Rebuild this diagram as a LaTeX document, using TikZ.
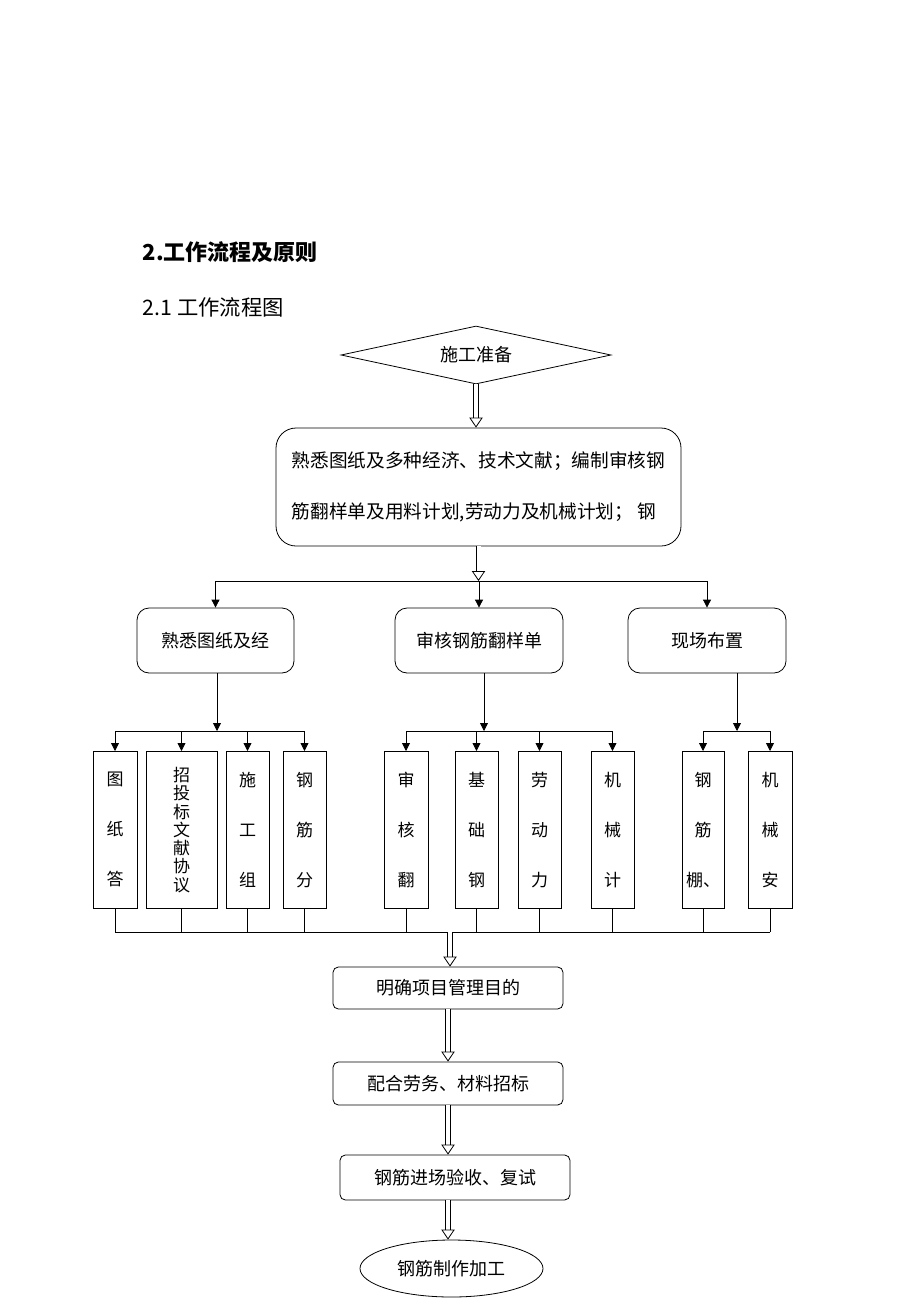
\documentclass[tikz,border=0pt]{standalone}
\usepackage{fontspec}
\setmainfont{Noto Sans CJK SC}
\usepackage{tikz}
\usetikzlibrary{arrows.meta,shapes.geometric}
\tikzstyle{flowbox}=[draw, rounded corners=9pt, line width=0.6pt, inner sep=0pt, minimum height=48.75pt, font=\fontsize{13.5}{16}\selectfont]
\tikzstyle{stepbox}=[draw, rounded corners=4pt, line width=0.6pt, inner sep=0pt, minimum width=172.5pt, minimum height=31.5pt, font=\fontsize{13.5}{16}\selectfont]
\tikzstyle{colbox}=[draw, line width=0.6pt, anchor=north, inner sep=0pt, minimum width=32.25pt, minimum height=117.75pt, align=center, font=\fontsize{12.75}{37.5}\selectfont]
\tikzstyle{hollow}=[double, double distance=3pt, line width=0.6pt, -{Triangle[open, fill=white, line width=0.6pt, length=7.5pt, width=10pt]}]
\tikzstyle{arr}=[line width=0.6pt, -{Triangle[length=6pt,width=6pt]}]
\tikzstyle{wire}=[line width=0.6pt]

\begin{document}
\begin{tikzpicture}[x=0.75pt, y=-0.75pt]
            \useasboundingbox (0,0) rectangle (920,1302);
            \node[anchor=west, font=\fontsize{16.5}{20}\selectfont\bfseries] (title) at (138,252) {2.工作流程及原则};
            \node[anchor=west, font=\fontsize{16}{20}\selectfont] (subtitle) at (138,307) {2.1 工作流程图};

            \node[draw, diamond, aspect=4.6, line width=0.6pt, inner sep=0pt, minimum width=202.5pt, minimum height=43.5pt, font=\fontsize{13.5}{16}\selectfont] (prep) at (476,355) {施工准备};
            \node[draw, rounded corners=15pt, line width=0.6pt, minimum width=303.75pt, minimum height=88.5pt, align=left, font=\fontsize{14}{38.25}\selectfont] (plan) at (478.5,487) {熟悉图纸及多种经济、技术文献；编制审核钢\\筋翻样单及用料计划,劳动力及机械计划；\ 钢};

            \node[flowbox, minimum width=117.75pt] (read) at (215.5,640.5) {熟悉图纸及经};
            \node[flowbox, minimum width=126pt] (check) at (479,640.5) {审核钢筋翻样单};
            \node[flowbox, minimum width=118.5pt] (site) at (707,640.5) {现场布置};

            \coordinate (jtop) at (478,581);
            \coordinate (ja) at (217,731);
            \coordinate (jb) at (484,731);
            \coordinate (jc) at (737,731);
            \coordinate (bus) at (450,932);

            \node[colbox, minimum width=33pt] (a1) at (115,751) {图\\纸\\答};
            \node[colbox, minimum width=53.25pt, font=\fontsize{12.75}{13.7}\selectfont] (a2) at (181.5,751) {招\\投\\标\\文\\献\\协\\议};
            \node[colbox] (a3) at (247.5,751) {施\\工\\组};
            \node[colbox] (a4) at (304.5,751) {钢\\筋\\分};
            \node[colbox, minimum width=33pt] (b1) at (406,751) {审\\核\\翻};
            \node[colbox] (b2) at (476.5,751) {基\\础\\钢};
            \node[colbox] (b3) at (539.5,751) {劳\\动\\力};
            \node[colbox] (b4) at (612.5,751) {机\\械\\计};
            \node[colbox, minimum width=31.5pt] (c1) at (703,751) {钢\\筋\\棚、};
            \node[colbox, minimum width=33pt] (c2) at (770,751) {机\\械\\安};

            \node[stepbox] (goal) at (448,988) {明确项目管理目的};
            \node[stepbox, minimum height=32.25pt] (tender) at (448,1083.5) {配合劳务、材料招标};
            \node[stepbox, minimum height=33.75pt] (accept) at (455,1177.5) {钢筋进场验收、复试};
            \node[draw, ellipse, line width=0.6pt, inner sep=0pt, minimum width=137.25pt, minimum height=42.75pt, font=\fontsize{13.5}{16}\selectfont] (make) at (451.5,1268.5) {钢筋制作加工};

            \draw[hollow] (prep.south) -- (prep.south |- plan.north);
            \draw[hollow] (plan.south) -- (plan.south |- jtop);
            \draw[wire] (read.north |- jtop) -- (site.north |- jtop);
            \draw[arr] (read.north |- jtop) -- (read.north);
            \draw[arr] (check.north |- jtop) -- (check.north);
            \draw[arr] (site.north |- jtop) -- (site.north);

            \draw[arr] (read.south -| ja) -- (ja);
            \draw[wire] (a1.north |- ja) -- (a4.north |- ja);
            \foreach \n in {a1,a2,a3,a4}
                \draw[arr] (\n.north |- ja) -- (\n.north);
            \draw[arr] (check.south -| jb) -- (jb);
            \draw[wire] (b1.north |- jb) -- (b4.north |- jb);
            \foreach \n in {b1,b2,b3,b4}
                \draw[arr] (\n.north |- jb) -- (\n.north);
            \draw[arr] (site.south -| jc) -- (jc);
            \draw[wire] (c1.north |- jc) -- (c2.north |- jc);
            \foreach \n in {c1,c2}
                \draw[arr] (\n.north |- jc) -- (\n.north);

            \foreach \n in {a1,a2,a3,a4,b1,b2,b3,b4,c1,c2}
                \draw[wire] (\n.south) -- (\n.south |- bus);
            \draw[wire] (a1.south |- bus) -- (c2.south |- bus);

            \draw[hollow] (bus) -- (bus |- goal.north);
            \draw[hollow] (goal.south) -- (goal.south |- tender.north);
            \draw[hollow] (tender.south) -- (tender.south |- accept.north);
            \draw[hollow] (accept.south -| goal.south) -- (goal.south |- make.north);
        \end{tikzpicture}
\end{document}
